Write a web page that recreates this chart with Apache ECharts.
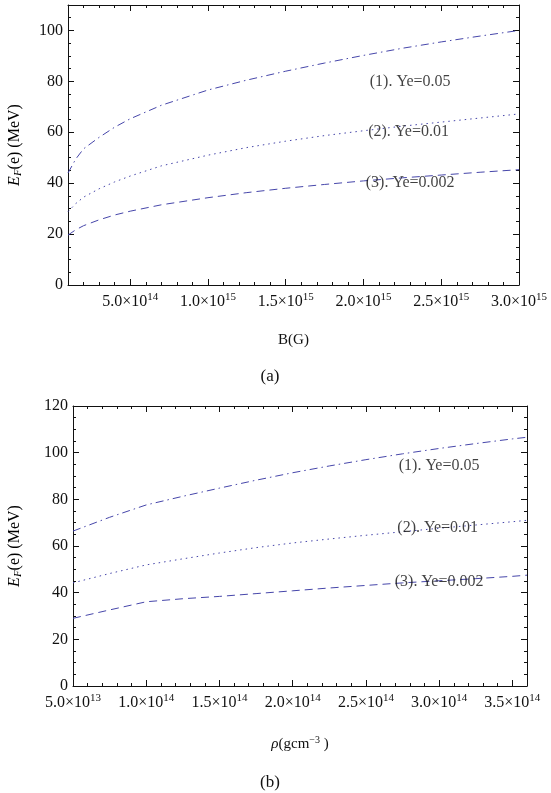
<!DOCTYPE html>
<html><head><meta charset="utf-8">
<script src="https://cdn.jsdelivr.net/npm/echarts@6/dist/echarts.min.js"></script>
<style>html,body{margin:0;padding:0;background:#fff}#c{width:551px;height:793px}</style>
</head><body><div id="c"></div>
<script>
// ---------- data ----------
const bField = [1e14, 1.5e14, 2e14, 3e14, 4e14, 5e14, 7e14, 1e15, 1.25e15, 1.5e15, 1.75e15, 2e15, 2.25e15, 2.5e15, 2.75e15, 3e15];
const efA_ye005 = [44, 49.5, 53.5, 58, 62, 65.3, 70.6, 76.6, 80.5, 84, 87.2, 90.2, 93, 95.5, 97.8, 100];
const efA_ye001 = [28.8, 32, 34.5, 37.8, 40.5, 42.8, 46.8, 51, 54, 56.5, 58.7, 60.6, 62.4, 64, 65.6, 67.2];
const efA_ye0002 = [19.6, 21.7, 23.3, 25.6, 27.5, 29, 31.5, 34.3, 36.3, 38, 39.5, 40.9, 42.1, 43.2, 44.3, 45.3];

const rhoDensity = [5e13, 7.5e13, 1e14, 1.25e14, 1.5e14, 1.75e14, 2e14, 2.25e14, 2.5e14, 2.75e14, 3e14, 3.25e14, 3.5e14, 3.6e14];
const efB_ye005 = [66.4, 72.3, 77.6, 81.3, 84.8, 88.2, 91.4, 94.3, 97, 99.5, 101.8, 103.9, 105.9, 106.6];
const efB_ye001 = [44.2, 48.2, 51.9, 54.5, 57, 59.3, 61.3, 63, 64.6, 66.1, 67.6, 69, 70.4, 71];
const efB_ye0002 = [29, 32.6, 36.1, 37.4, 38.4, 39.6, 40.8, 42, 43.1, 44.2, 45.1, 46, 47, 47.5];

const seriesLabels = ['(1). Ye=0.05', '(2). Ye=0.01', '(3). Ye=0.002'];
const labelPosA = [[2.3e15, 79.8], [2.29e15, 60.1], [2.3e15, 40.1]];
const labelPosB = [[3.0e14, 94.3], [2.99e14, 67.7], [3.0e14, 44.6]];

const xTicksA = [5e14, 1e15, 1.5e15, 2e15, 2.5e15, 3e15];
const xTicksB = [5e13, 1e14, 1.5e14, 2e14, 2.5e14, 3e14, 3.5e14];
// ----------------------------------------------------

const FONT = 'Liberation Serif';
const INK = '#111111';
const LINE = '#4646aa';
const dashStyles = [[8, 4, 1.5, 4], [1.5, 4], [8, 5]];

function sci(v) {
  const e = Math.floor(Math.log10(v) + 1e-9);
  const m = (v / Math.pow(10, e)).toFixed(1);
  return '{m|' + m + '×10}{e|' + e + '}';
}
const sciRich = {
  m: {fontFamily: FONT, fontSize: 16, color: INK, lineHeight: 20},
  e: {fontFamily: FONT, fontSize: 11, color: INK, lineHeight: 11, verticalAlign: 'top'}
};

function xAxesFor(grid, min, max, minorInt, majors, name, nameRich, nameGap) {
  const base = {gridIndex: grid, type: 'value', min: min, max: max, splitLine: {show: false}};
  return [
    Object.assign({}, base, {position: 'bottom', interval: minorInt,
      axisLine: {show: true, onZero: false, lineStyle: {color: INK, width: 1}},
      axisTick: {show: true, inside: true, length: 3, lineStyle: {color: INK}},
      axisLabel: {show: false}}),
    Object.assign({}, base, {position: 'bottom', interval: minorInt,
      axisLine: {show: false, onZero: false},
      axisTick: {show: true, inside: true, length: 6, customValues: majors, lineStyle: {color: INK}},
      axisLabel: {show: true, customValues: majors, margin: 7, formatter: sci, rich: sciRich},
      name: name, nameLocation: 'middle', nameGap: nameGap,
      nameTextStyle: {rich: nameRich}}),
    Object.assign({}, base, {position: 'top', interval: minorInt,
      axisLine: {show: true, onZero: false, lineStyle: {color: INK, width: 1}},
      axisTick: {show: true, inside: true, length: 3, lineStyle: {color: INK}},
      axisLabel: {show: false}}),
    Object.assign({}, base, {position: 'top', interval: minorInt,
      axisLine: {show: false, onZero: false},
      axisTick: {show: true, inside: true, length: 6, customValues: majors, lineStyle: {color: INK}},
      axisLabel: {show: false}})
  ];
}

function yAxesFor(grid, max, showMax) {
  const base = {gridIndex: grid, type: 'value', min: 0, max: max, interval: 20, splitLine: {show: false},
    minorTick: {show: true, splitNumber: 4, length: 3, lineStyle: {color: INK}},
    axisTick: {show: true, inside: true, length: 6, lineStyle: {color: INK}},
    axisLine: {show: true, onZero: false, lineStyle: {color: INK, width: 1}}};
  return [
    Object.assign({}, base, {position: 'left',
      axisLabel: {show: true, margin: 5, fontFamily: FONT, fontSize: 16, color: INK, showMaxLabel: showMax}}),
    Object.assign({}, base, {position: 'right', axisLabel: {show: false}})
  ];
}

const bNameRich = {n: {fontFamily: FONT, fontSize: 15, color: INK, lineHeight: 18}};
const rhoNameRich = {
  r: {fontFamily: FONT, fontStyle: 'italic', fontSize: 15, color: INK, lineHeight: 18},
  n: {fontFamily: FONT, fontSize: 15, color: INK, lineHeight: 18},
  p: {fontFamily: FONT, fontSize: 10, color: INK, lineHeight: 10, verticalAlign: 'top'}
};
const yNameRich = {
  i: {fontFamily: FONT, fontStyle: 'italic', fontSize: 16, color: INK, lineHeight: 18},
  s: {fontFamily: FONT, fontStyle: 'italic', fontSize: 11, color: INK, lineHeight: 10, verticalAlign: 'bottom'},
  n: {fontFamily: FONT, fontSize: 16, color: INK, lineHeight: 18}
};

const xAxis = [].concat(
  xAxesFor(0, 1e14, 3e15, 1e14, xTicksA, '{n|B(G)}', bNameRich, 46),
  xAxesFor(1, 5e13, 3.6e14, 1e13, xTicksB, '{r|ρ}{n|(gcm}{p|−3}{n| )}', rhoNameRich, 49)
);
const yAxis = [].concat(yAxesFor(0, 110, false), yAxesFor(1, 120, true));

function zip(xs, ys) { return xs.map((x, i) => [x, ys[i]]); }

const series = [];
[[efA_ye005, efA_ye001, efA_ye0002], [efB_ye005, efB_ye001, efB_ye0002]].forEach((set, g) => {
  const xs = g === 0 ? bField : rhoDensity;
  set.forEach((ys, k) => {
    series.push({type: 'line', xAxisIndex: g * 4, yAxisIndex: g * 2, data: zip(xs, ys),
      showSymbol: false, smooth: false, silent: true,
      lineStyle: {color: LINE, width: 1, type: dashStyles[k]}});
  });
  const pos = g === 0 ? labelPosA : labelPosB;
  series.push({type: 'scatter', xAxisIndex: g * 4, yAxisIndex: g * 2, symbolSize: 1,
    itemStyle: {color: 'rgba(0,0,0,0)'}, silent: true, z: 5,
    data: pos.map((p, k) => ({value: p, name: seriesLabels[k]})),
    label: {show: true, position: 'inside', formatter: '{b}', fontFamily: FONT, fontSize: 16, color: INK}});
});

const yName = '{i|E}{s|F}{n|(e) (MeV)}';
const chart = echarts.init(document.getElementById('c'), null, {renderer: 'canvas'});
chart.setOption({
  animation: false,
  backgroundColor: '#fff',
  grid: [
    {left: 68, right: 32, top: 5, height: 280},
    {left: 73, right: 24, top: 406, height: 280}
  ],
  xAxis: xAxis,
  yAxis: yAxis,
  series: series,
  graphic: [
    {type: 'text', x: 15, y: 145, rotation: Math.PI / 2,
      style: {text: yName, rich: yNameRich, align: 'center', verticalAlign: 'middle'}},
    {type: 'text', x: 15, y: 546, rotation: Math.PI / 2,
      style: {text: yName, rich: yNameRich, align: 'center', verticalAlign: 'middle'}},
    {type: 'text', x: 270, y: 377,
      style: {text: '(a)', font: '17px "Liberation Serif"', fill: INK, align: 'center', verticalAlign: 'middle'}},
    {type: 'text', x: 270, y: 783,
      style: {text: '(b)', font: '17px "Liberation Serif"', fill: INK, align: 'center', verticalAlign: 'middle'}}
  ]
});
</script></body></html>
